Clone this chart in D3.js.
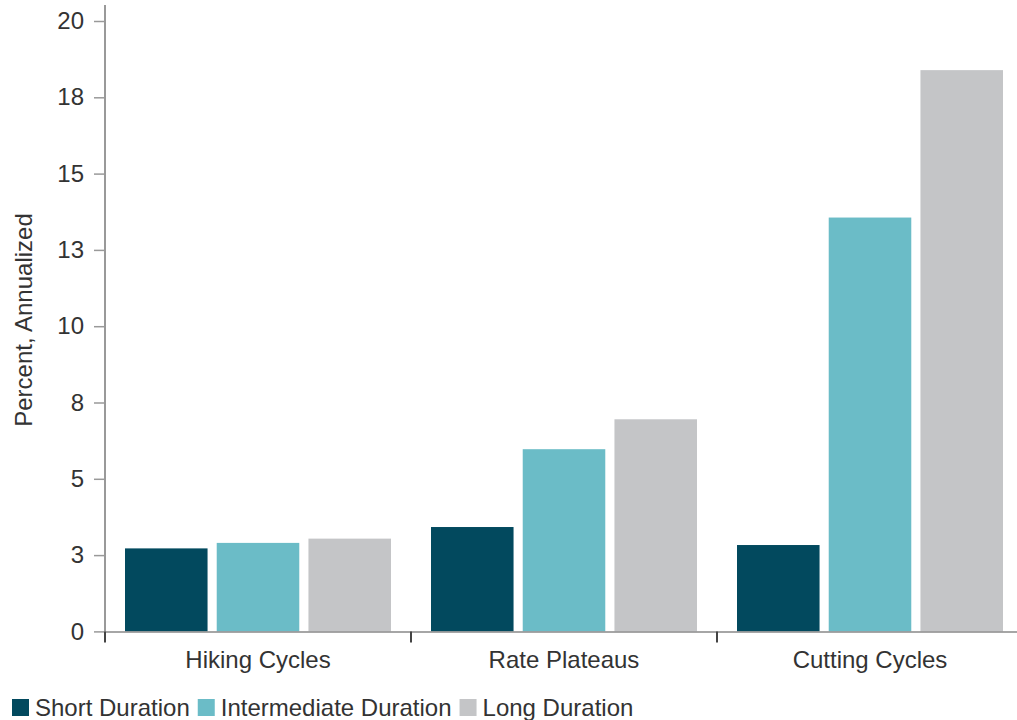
<!DOCTYPE html>
<html><head><meta charset="utf-8">
<script src="https://cdn.jsdelivr.net/npm/d3@7"></script>
<style>body{margin:0;background:#fff}svg{display:block}text{font-family:"Liberation Sans",Arial,sans-serif;fill:#333}</style>
</head><body><svg id="c" width="1017" height="720"></svg>
<script>
const categories = ["Hiking Cycles", "Rate Plateaus", "Cutting Cycles"];
const seriesNames = ["Short Duration", "Intermediate Duration", "Long Duration"];
const shortDuration = [2.72, 3.42, 2.83];
const intermediateDuration = [2.90, 5.97, 13.56];
const longDuration = [3.04, 6.95, 18.39];
const yTicks = [0, 2.5, 5, 7.5, 10, 12.5, 15, 17.5, 20];
const yTickLabels = ["0", "3", "5", "8", "10", "13", "15", "18", "20"];
const colors = ["#02495e", "#6bbcc7", "#c4c5c7"];

(function () {
const series = [shortDuration, intermediateDuration, longDuration];
const svg = d3.select("#c");
const mLeft = 105, mTop = 21, mBottom = 631.4;

const x = d3.scaleBand().domain(categories).range([mLeft, mLeft + 306 * 3]).paddingInner(0).paddingOuter(0);
const xi = d3.scaleBand().domain(seriesNames).range([20, 286]).paddingInner(0.1).paddingOuter(0);
const y = d3.scaleLinear().domain([0, 20]).range([mBottom, mTop]);

categories.forEach((c, ci) => {
  series.forEach((s, si) => {
    svg.append("rect")
      .attr("x", x(c) + xi(seriesNames[si]))
      .attr("y", y(s[ci]))
      .attr("width", xi.bandwidth())
      .attr("height", y(0) - y(s[ci]))
      .attr("fill", colors[si]);
  });
});

const yAxis = d3.axisLeft(y).tickValues(yTicks).tickFormat((d, i) => yTickLabels[i]).tickSize(11).tickPadding(10);
const gy = svg.append("g").attr("transform", `translate(${mLeft},0)`).call(yAxis);
gy.select(".domain").attr("d", `M0,5V${mBottom}`).attr("stroke", "#555").attr("stroke-width", 1.2);
gy.selectAll(".tick line").attr("stroke", "#999").attr("stroke-width", 1.5);
gy.selectAll(".tick text").style("font-size", "24px").attr("fill", "#333");

svg.append("line").attr("x1", mLeft).attr("x2", 1017).attr("y1", mBottom + 0.5).attr("y2", mBottom + 0.5)
  .attr("stroke", "#888").attr("stroke-width", 1.5);
[0, 1, 2].forEach(i => {
  const b = x(categories[i]);
  svg.append("line").attr("x1", b).attr("x2", b).attr("y1", mBottom).attr("y2", mBottom + 11)
    .attr("stroke", "#444").attr("stroke-width", 2);
});
categories.forEach(c => {
  svg.append("text").attr("x", x(c) + x.bandwidth() / 2).attr("y", 668).attr("text-anchor", "middle")
    .style("font-size", "24px").text(c);
});

svg.append("text").attr("transform", "translate(32,320) rotate(-90)").attr("text-anchor", "middle")
  .style("font-size", "24px").text("Percent, Annualized");

let lx = 12;
seriesNames.forEach((n, i) => {
  svg.append("rect").attr("x", lx).attr("y", 699).attr("width", 17).attr("height", 17).attr("fill", colors[i]);
  const t = svg.append("text").attr("x", lx + 23).attr("y", 716).style("font-size", "24px").text(n);
  lx += 23 + t.node().getComputedTextLength() + 8;
});
})();
</script></body></html>
